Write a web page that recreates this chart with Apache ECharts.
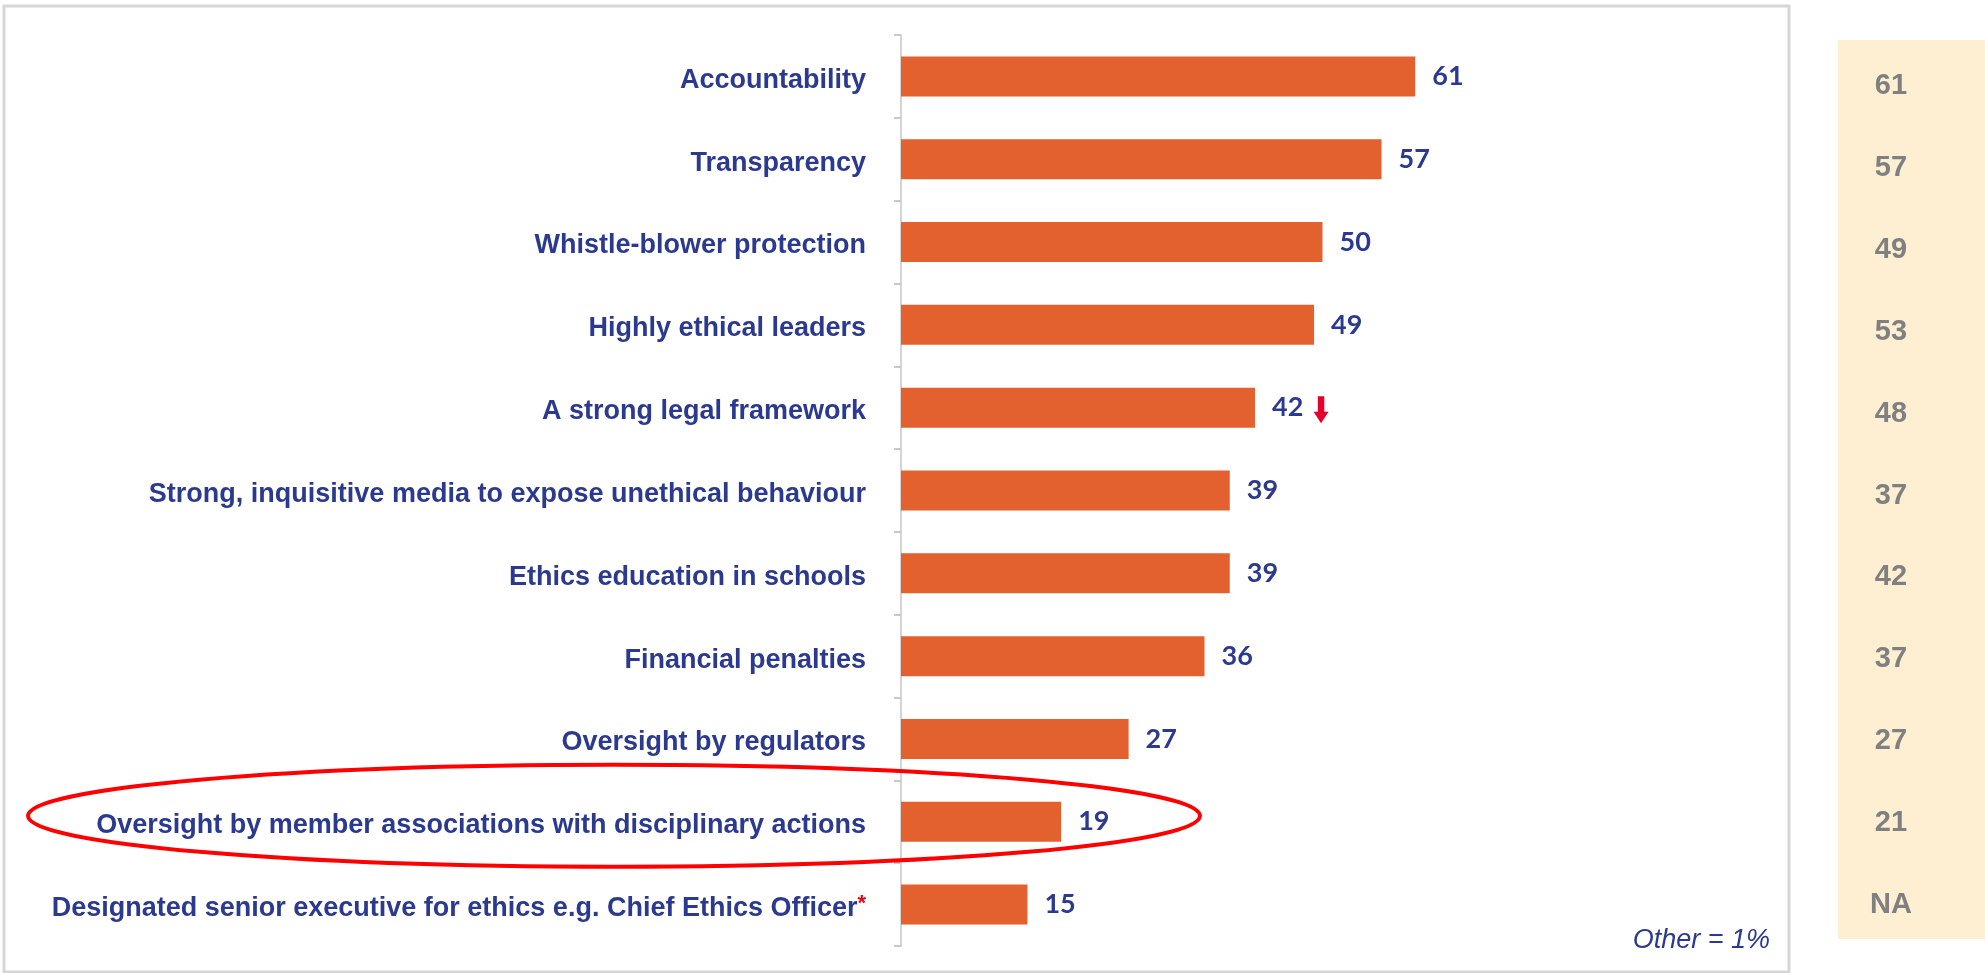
<!DOCTYPE html>
<html style="height: 100%">
<head>
    <meta charset="utf-8">
</head>
<body style="height: 100%; margin: 0; background: #fff">
<div id="container" style="width: 1985px; height: 973px"></div>
<script src="https://cdn.jsdelivr.net/npm/echarts@6/dist/echarts.min.js"></script>
<script type="text/javascript">
    // data, top to bottom
    var categories = [
        'Accountability',
        'Transparency',
        'Whistle-blower protection',
        'Highly ethical leaders',
        'A strong legal framework',
        'Strong, inquisitive media to expose unethical behaviour',
        'Ethics education in schools',
        'Financial penalties',
        'Oversight by regulators',
        'Oversight by member associations with disciplinary actions',
        'Designated senior executive for ethics e.g. Chief Ethics Officer*'
    ];
    var values = [61, 57, 50, 49, 42, 39, 39, 36, 27, 19, 15];
    var prevValues = ['61', '57', '49', '53', '48', '37', '42', '37', '27', '21', 'NA'];
    var downIndex = 4;        // "A strong legal framework" has the red down arrow
    var circledIndex = 9;     // row with the red ellipse
    var noteText = 'Other = 1%';

    var navy = '#2B3A8F';
    var orange = '#E2612F';

    var dom = document.getElementById("container");
    var myChart = echarts.init(dom);

    var frame = {
        type: 'rect',
        shape: {x: 4, y: 6, width: 1785, height: 966},
        style: {fill: 'none', stroke: '#D6D6D6', lineWidth: 3},
        silent: true
    };
    var note = {
        type: 'text',
        right: 1985 - 1770,
        top: 927,
        style: {
            text: noteText,
            fill: navy,
            font: 'italic 27px "Liberation Sans"'
        }
    };

    var option = {
        animation: false,
        grid: [
            // main bars
            {left: 901, top: 35, width: 843, height: 911, outerBoundsMode: 'none'},
            // beige panel on the right
            {left: 1838, right: 0, top: 40, bottom: 34, show: true, borderWidth: 0,
                backgroundColor: '#FEEFD3', outerBoundsMode: 'none'},
            // previous-wave numbers inside the panel
            {left: 1838, right: 0, top: 45, bottom: 27, outerBoundsMode: 'none'}
        ],
        xAxis: [
            {type: 'value', gridIndex: 0, min: 0, max: 100, show: false},
            {type: 'value', gridIndex: 1, min: 0, max: 1, show: false},
            {type: 'value', gridIndex: 2, min: 0, max: 1, show: false}
        ],
        yAxis: [
            {
                type: 'category',
                gridIndex: 0,
                data: categories,
                inverse: true,
                axisLine: {lineStyle: {color: '#D4D4D4', width: 2}},
                axisTick: {show: true, length: 7, lineStyle: {color: '#C8C8C8', width: 2}},
                axisLabel: {
                    margin: 35,
                    color: navy,
                    fontFamily: 'Liberation Sans',
                    fontWeight: 'bold',
                    fontSize: 27,
                    padding: [8, 0, 0, 0],
                    formatter: function (v) {
                        if (v.charAt(v.length - 1) === '*') {
                            return v.slice(0, -1) + '{star|*}';
                        }
                        return v;
                    },
                    rich: {
                        star: {color: '#E30613', fontSize: 22, fontWeight: 'bold',
                            fontFamily: 'Liberation Sans', verticalAlign: 'top', padding: [0, 0, 10, 0]}
                    }
                }
            },
            {type: 'category', gridIndex: 1, data: categories, show: false},
            {
                type: 'category',
                gridIndex: 2,
                data: categories,
                inverse: true,
                axisLine: {show: false},
                axisTick: {show: false},
                axisLabel: {
                    inside: true,
                    margin: 53,
                    align: 'center',
                    color: '#808080',
                    fontFamily: 'Liberation Sans',
                    fontWeight: 'bold',
                    fontSize: 29,
                    formatter: function (v, i) {
                        return prevValues[i];
                    }
                }
            }
        ],
        series: [
            {
                type: 'bar',
                xAxisIndex: 0,
                yAxisIndex: 0,
                data: values,
                barWidth: 40,
                itemStyle: {color: orange},
                label: {
                    show: true,
                    position: 'right',
                    distance: 17,
                    color: navy,
                    fontFamily: 'Lato',
                    fontWeight: 'bold',
                    fontSize: 27
                },
                markPoint: {
                    silent: true,
                    label: {show: false},
                    data: [{
                        coord: [values[downIndex], categories[downIndex]],
                        symbol: 'path://M4,0 L10,0 L10,15 L14,15 L7,26 L0,15 L4,15 Z',
                        symbolSize: [15, 27],
                        symbolOffset: [66, 2],
                        itemStyle: {color: '#E4002B'}
                    }]
                }
            }
        ],
        graphic: [frame, note]
    };
    myChart.setOption(option);

    // red ellipse around the highlighted row, placed from the axis scale
    var p = myChart.convertToPixel({gridIndex: 0}, [0, categories[circledIndex]]);
    myChart.setOption({
        graphic: [
            frame,
            note,
            {
                type: 'ellipse',
                shape: {cx: 614, cy: p[1] - 6, rx: 586, ry: 51},
                style: {fill: 'none', stroke: '#FF0000', lineWidth: 4},
                silent: true,
                z: 10
            }
        ]
    });
</script>
</body>
</html>
